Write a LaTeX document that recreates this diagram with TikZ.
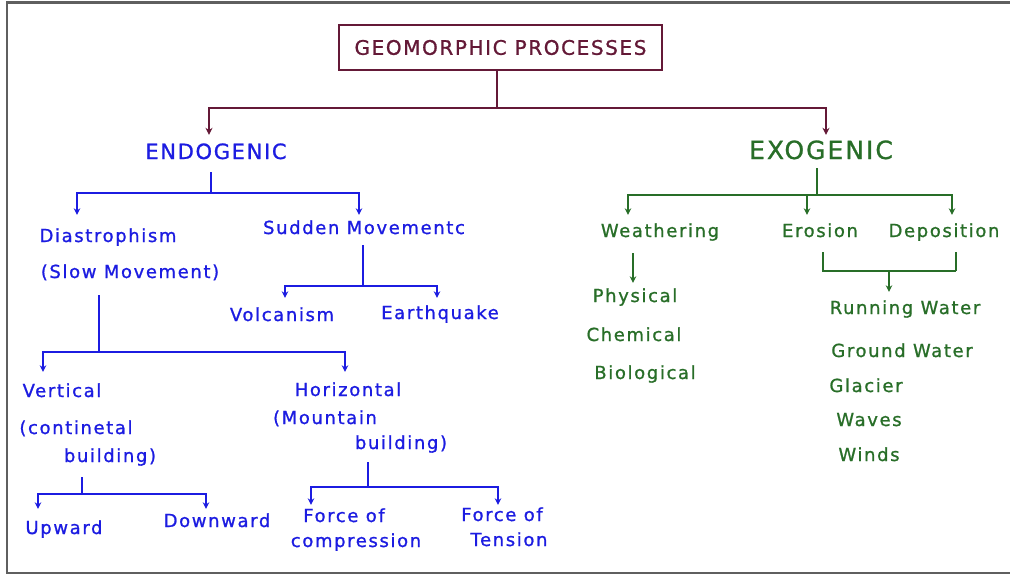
\documentclass[tikz,border=0pt]{standalone}
\usepackage{fontspec}
\setmainfont{DejaVu Sans}
\newfontfamily\hand{DejaVu Sans}[LetterSpace=9,FakeBold=1]
\newfontfamily\handcaps{DejaVu Sans}[LetterSpace=8,FakeBold=1]
\usetikzlibrary{arrows.meta}
\definecolor{hmaroon}{RGB}{100,25,55}
\definecolor{hblue}{RGB}{28,28,225}
\definecolor{hgreen}{RGB}{40,110,40}
\definecolor{hframe}{RGB}{95,95,95}
\tikzset{
  txt/.style={inner sep=0pt, text height=11pt, text depth=3pt, font=\hand\fontsize{18}{21}\selectfont},
  btxt/.style={txt, text=hblue},
  gtxt/.style={txt, text=hgreen},
  ctxt/.style={inner sep=0pt, text height=11pt, text depth=3pt},
  mline/.style={draw=hmaroon, line width=2.2pt},
  bline/.style={draw=hblue, line width=1.9pt},
  gline/.style={draw=hgreen, line width=1.9pt},
  marr/.style={mline, -{Stealth[length=7pt,width=7pt]}},
  barr/.style={bline, -{Stealth[length=6.5pt,width=6.5pt]}},
  garr/.style={gline, -{Stealth[length=6.5pt,width=6.5pt]}},
}
\begin{document}
\begin{tikzpicture}[x=1pt,y=-1pt]
\useasboundingbox (0,0) rectangle (1010,576);
\fill[white] (0,0) rectangle (1010,576);
\draw[hframe, line width=2.6pt] (1014,2.5) -- (7,2.5) -- (7,573) -- (1014,573);

% top
\node[draw=hmaroon, line width=2.4pt, minimum width=323pt, minimum height=45pt, inner sep=0pt,
      text=hmaroon, font=\handcaps\fontsize{20}{22}\selectfont] (gp) at (500.5,47.5) {GEOMORPHIC PROCESSES};
\node[ctxt, text=hblue, font=\handcaps\fontsize{21}{23}\selectfont] (endo) at (216,155) {ENDOGENIC};
\node[ctxt, text=hgreen, font=\handcaps\fontsize{25}{27}\selectfont] (exo) at (821,155) {EXOGENIC};

\coordinate (mJ) at (497,108);
\draw[mline] ([xshift=-3.5pt]gp.south) -- (mJ);
\draw[marr, shorten >=13pt] (mJ) -| ([xshift=-7pt]endo.north);
\draw[marr, shorten >=13pt] (mJ) -| ([xshift=5pt]exo.north);

% endogenic
\node[btxt] (dias) at (108,238) {Diastrophism};
\node[btxt] (slow) at (130,274) {(Slow Movement)};
\node[btxt] (sudden) at (364,230) {Sudden Movementc};
\node[btxt] (volc) at (282,317) {Volcanism};
\node[btxt] (earth) at (440,315) {Earthquake};
\node[btxt] (vert) at (62,393) {Vertical};
\node[btxt] (cont) at (76,430) {(continetal};
\node[btxt] (bld1) at (110,458) {building)};
\node[btxt] (horiz) at (348,392) {Horizontal};
\node[btxt] (mount) at (325,420) {(Mountain};
\node[btxt] (bld2) at (401,445) {building)};
\node[btxt] (up) at (64,530) {Upward};
\node[btxt] (down) at (217,523) {Downward};
\node[btxt] (f1) at (344,518) {Force of};
\node[btxt] (comp) at (356,543) {compression};
\node[btxt] (f2) at (502,517) {Force of};
\node[btxt] (tens) at (509,542) {Tension};

\coordinate (eJ) at (211,193);
\draw[bline, shorten <=10pt] ([xshift=-5pt]endo.south) -- (eJ);
\draw[barr, shorten >=16pt] (eJ) -| ([xshift=-31pt]dias.north);
\draw[barr, shorten >=8pt] (eJ) -| ([xshift=-5pt]sudden.north);

\coordinate (sJ) at (363,286);
\draw[bline, shorten <=8pt] ([xshift=-1pt]sudden.south) -- (sJ);
\draw[barr, shorten >=12pt] (sJ) -| ([xshift=3pt]volc.north);
\draw[barr, shorten >=10pt] (sJ) -| ([xshift=-3pt]earth.north);

\coordinate (dJ) at (99,352);
\draw[bline, shorten <=14pt] ([xshift=-31pt]slow.south) -- (dJ);
\draw[barr, shorten >=14pt] (dJ) -| ([xshift=-19pt]vert.north);
\draw[barr, shorten >=13pt] (dJ) -| ([xshift=-3pt]horiz.north);

\coordinate (vJ) at (82,494);
\draw[bline, shorten <=12pt] ([xshift=-28pt]bld1.south) -- (vJ);
\draw[barr, shorten >=14pt] (vJ) -| ([xshift=-26pt]up.north);
\draw[barr, shorten >=7pt] (vJ) -| ([xshift=-11pt]down.north);

\coordinate (hJ) at (368,487);
\draw[bline, shorten <=10pt] ([xshift=-33pt]bld2.south) -- (hJ);
\draw[barr, shorten >=6pt] (hJ) -| ([xshift=-33pt]f1.north);
\draw[barr, shorten >=5pt] (hJ) -| ([xshift=-4pt]f2.north);

% exogenic
\node[gtxt] (weath) at (660,233) {Weathering};
\node[gtxt] (eros) at (820,233) {Erosion};
\node[gtxt] (depo) at (944,233) {Deposition};
\node[gtxt] (phys) at (635,298) {Physical};
\node[gtxt] (chem) at (634,337) {Chemical};
\node[gtxt] (bio) at (645,375) {Biological};
\node[gtxt] (run) at (905,310) {Running Water};
\node[gtxt] (ground) at (902,353) {Ground Water};
\node[gtxt] (glac) at (866,388) {Glacier};
\node[gtxt] (waves) at (869,422) {Waves};
\node[gtxt] (winds) at (869,457) {Winds};

\coordinate (xJ) at (817,195);
\draw[gline, shorten <=6pt] ([xshift=-4pt]exo.south) -- (xJ);
\draw[garr, shorten >=11pt] (xJ) -| ([xshift=-32pt]weath.north);
\draw[garr, shorten >=11pt] (xJ) -| ([xshift=-13pt]eros.north);
\draw[garr, shorten >=11pt] (xJ) -| ([xshift=8pt]depo.north);

\draw[garr, shorten <=13pt, shorten >=8pt] ([xshift=-27pt]weath.south) -- ([xshift=-2pt]phys.north);

\coordinate (bL) at (823,271);
\coordinate (bR) at (956,271);
\coordinate (bM) at (889,271);
\draw[gline, shorten <=12pt] ([xshift=3pt]eros.south) -- (bL) -- (bR);
\draw[gline, shorten >=12pt] (bR) -- ([xshift=12pt]depo.south);
\draw[garr, shorten >=11pt] (bM) -- ([xshift=-16pt]run.north);
\end{tikzpicture}
\end{document}
